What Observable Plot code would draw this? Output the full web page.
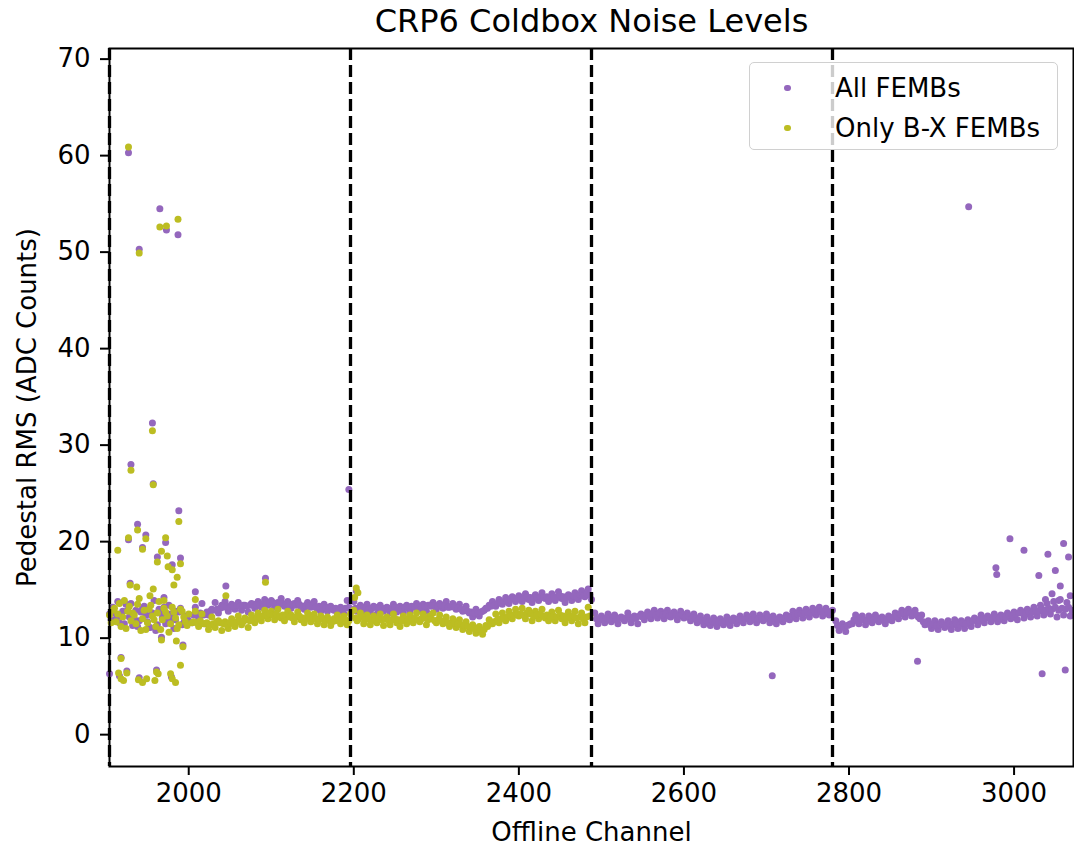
<!DOCTYPE html>
<html><head><meta charset="utf-8">
<script src="https://cdn.jsdelivr.net/npm/d3@7"></script>
<script src="https://cdn.jsdelivr.net/npm/@observablehq/plot@0.6"></script>
<style>
body{margin:0;background:#fff;}
#wrap{position:relative;width:1074px;height:846px;font-family:"DejaVu Sans",sans-serif;}
.legend{position:absolute;left:749px;top:62px;width:309px;height:88px;border:1.5px solid #d0d0d0;border-radius:5px;background:rgba(255,255,255,0.8);box-sizing:border-box;}
.legend .row{position:absolute;left:0;height:30px;}
.legend .dot{position:absolute;left:34px;width:6.6px;height:6.6px;border-radius:50%;}
.legend .lab{position:absolute;left:85px;top:0;font-size:26px;white-space:nowrap;color:#000;line-height:30px;}
</style>
</head><body>
<div id="wrap"></div>
<script>
// Section boundaries (offline channels), ticks
const dividers = [1904, 2196, 2488, 2780];
const xTicks = [2000, 2200, 2400, 2600, 2800, 3000];
const yTicks = [0, 10, 20, 30, 40, 50, 60, 70];

// "All FEMBs" base band, one value every 4 channels (two interleaved samplings)
const allA = [12.5,13.2,12.0,11.6,12.8,13.5,12.2,11.3,12.9,11.8,13.1,12.4,11.1,12.6,10.8,13.0,12.1,11.5,13.4,12.0,11.9,12.7,11.4,12.3,11.8]; // 1904-2000
const allA2 = [11.9,12.6,13.8,12.3,11.5,12.9,13.6,12.0,11.2,12.7,13.3,11.7,12.4,13.9,11.4,12.6,13.2,11.9,12.5,11.0,12.8,13.1,11.6,12.2]; // 1906-1998
const allB = [11.6,13.2,12.0,13.6,11.5,12.4,13.0,13.7,12.6,13.4,13.8,12.8,13.5,13.0,13.7,12.9,13.4,12.7,13.6,13.1,13.8,13.2,14.0,13.4,13.9,13.2,13.7,14.1,13.3,13.8,13.1,13.6,13.9,13.2,13.0,13.7,13.2,13.8,13.0,12.8,13.5,12.8,13.3,12.9,12.6,13.2,12.5,13.9,13.0]; // 2004-2196
const allB2 = [12.4,12.5,12.6,12.4,12.7,12.8,12.9,13.0,13.1,13.2,13.3,13.2,13.3,13.4,13.3,13.4,13.3,13.4,13.5,13.4,13.5,13.6,13.5,13.6,13.7,13.6,13.5,13.6,13.5,13.4,13.5,13.4,13.5,13.3,13.4,13.3,13.4,13.2,13.3,13.2,13.1,13.2,13.0,13.1,12.9,13.0,13.1,13.2]; // 2006-2194
const allC = [13.8,12.8,13.4,12.6,13.5,12.7,13.3,12.5,13.4,12.8,13.2,12.6,13.5,12.7,13.3,12.6,13.4,12.8,13.2,13.6,12.9,13.5,12.8,13.4,13.7,13.0,13.6,13.1,13.8,13.2,13.6,13.0,13.5,12.8,13.3,12.6,12.2,13.0,12.3,12.8,13.1,13.4,13.8,13.3,14.0,13.5,14.2,13.6,14.3,13.8,14.4,13.8,14.6,14.0,13.7,14.5,13.9,14.7,14.1,13.8,14.6,13.9,14.8,14.1,13.7,14.5,13.9,14.7,14.0,14.9,14.3,15.1,14.0]; // 2200-2488
const allC2 = [13.1,13.0,13.2,13.1,13.0,13.1,13.2,13.0,13.1,13.0,13.1,13.0,13.2,13.1,13.0,13.2,13.1,13.3,13.2,13.3,13.2,13.3,13.4,13.3,13.4,13.3,13.4,13.3,13.2,13.3,13.2,13.1,13.0,12.9,12.8,12.7,12.6,12.6,12.7,12.9,13.1,13.3,13.4,13.6,13.7,13.8,13.9,14.0,14.1,14.1,14.2,14.1,14.3,14.2,14.1,14.2,14.3,14.2,14.3,14.2,14.3,14.2,14.4,14.3,14.2,14.3,14.4,14.3,14.5,14.4,14.6,14.5]; // 2202-2486
const allD = [12.6,11.5,12.3,11.6,12.5,11.7,12.4,11.5,12.2,11.8,12.6,11.6,12.3,11.5,12.5,11.9,12.7,12.0,12.9,12.1,12.8,12.0,12.9,12.2,12.7,11.9,12.8,12.1,12.6,11.8,12.5,11.6,12.3,11.4,12.2,11.3,12.1,11.2,12.0,11.4,12.2,11.3,12.1,11.5,12.3,11.6,12.4,11.7,12.5,11.6,12.4,11.8,12.5,11.6,12.3,11.5,12.2,11.7,12.4,11.9,12.8,12.0,12.9,12.1,13.0,12.2,13.1,12.4,13.2,12.3,13.1,12.4,12.9]; // 2492-2780
const allD2 = [12.0,12.1,11.9,12.1,12.0,12.2,11.9,12.1,12.0,12.1,12.2,12.0,12.1,12.3,12.2,12.4,12.3,12.5,12.4,12.6,12.4,12.5,12.3,12.5,12.4,12.3,12.4,12.2,12.3,12.1,12.0,11.9,11.8,11.9,11.7,11.8,11.6,11.7,11.6,11.8,11.7,11.9,11.8,12.0,11.9,12.0,12.1,11.9,12.1,12.0,12.1,12.0,12.2,11.9,12.0,11.9,12.1,12.0,12.2,12.3,12.4,12.5,12.5,12.6,12.7,12.6,12.8,12.7,12.8,12.7,12.8,12.7]; // 2494-2778
const allE = [11.8,10.8,11.5,10.7,11.4,11.5,12.4,11.5,12.3,11.4,12.3,11.6,12.4,11.7,12.2,11.5,12.3,11.8,12.6,12.0,12.9,12.2,13.0,12.3,12.9,12.2,12.4,11.4,11.8,11.0,11.8,10.9,11.7,11.1,11.8,10.9,11.9,11.0,11.8,11.0,11.9,11.2,12.1,11.4,12.4,11.6,12.3,11.7,12.5,11.7,12.4,11.8,12.6,12.0,12.7,11.9,12.9,12.1,13.0,12.2,13.2,12.3,13.4,12.4,13.6,12.5,13.8,12.2,14.0,12.4,13.7,12.3]; // 2784-3068
const allE2 = [11.3,11.2,11.1,11.3,11.5,11.9,11.8,12.0,11.9,11.8,12.0,11.9,12.1,11.9,12.0,11.9,12.1,12.2,12.3,12.5,12.6,12.7,12.6,12.5,12.4,12.0,11.7,11.5,11.4,11.5,11.3,11.4,11.4,11.3,11.5,11.4,11.5,11.4,11.6,11.5,11.7,11.8,11.9,11.9,12.0,12.1,12.1,12.0,12.2,12.1,12.3,12.2,12.4,12.3,12.5,12.6,12.6,12.5,12.8,12.7,12.9,12.8,13.0,12.9,13.1,13.0,13.2,12.9,13.1,13.0,13.2,12.9]; // 2786-3070

// "Only B-X FEMBs" base band
const bxA = [12.4,12.9,11.7,13.6,12.2,11.0,13.3,12.6,11.5,14.1,12.0,10.9,13.0,12.3,11.2,13.8,11.9,12.7,10.6,13.2,12.1,11.4,12.8,11.7,12.5]; // 1904-2000
const bxA2 = [11.6,13.1,12.5,11.2,13.9,12.8,11.8,12.4,13.5,10.8,12.9,11.6,13.4,11.9,12.6,10.9,13.1,12.3,11.5,12.7,11.0,13.0,12.2,11.3]; // 1906-1998
const bxB = [11.6,12.8,11.2,12.5,11.5,10.9,12.2,11.1,11.8,10.8,11.7,11.0,12.0,11.2,12.3,11.4,12.1,11.1,12.4,11.6,12.6,11.8,12.9,12.0,12.8,11.9,13.0,12.1,11.8,12.8,12.4,11.7,12.7,11.9,11.6,12.6,11.7,12.5,11.5,12.3,11.4,12.2,11.3,12.0,12.4,11.5,12.3,11.4,12.5]; // 2004-2196
const bxB2 = [11.7,11.6,11.8,11.5,11.6,11.4,11.5,11.7,11.6,11.5,11.4,11.6,11.5,11.7,11.8,11.7,11.9,11.8,12.0,12.1,12.2,12.3,12.4,12.5,12.4,12.5,12.3,12.4,12.3,12.2,12.1,12.2,12.3,12.1,12.0,12.2,12.1,12.0,11.9,12.0,11.8,11.9,11.7,11.8,11.9,12.0,11.9,11.8]; // 2006-2194
const bxC = [12.9,11.8,12.6,11.5,12.4,11.4,12.3,11.6,12.5,11.3,12.2,11.4,12.5,11.6,11.2,12.3,11.5,12.4,11.6,12.6,11.7,12.5,11.4,12.3,12.6,11.6,12.4,11.5,12.2,11.2,12.0,11.1,11.9,10.9,11.7,10.7,11.4,10.5,11.2,10.4,11.3,11.9,11.5,12.5,11.6,12.6,11.8,12.8,12.0,13.0,12.3,13.1,12.0,12.9,11.8,12.8,12.0,13.0,12.1,11.8,12.7,11.8,12.9,12.0,11.6,12.7,11.8,12.8,11.5,12.6,11.6,13.2]; // 2200-2484
const bxC2 = [12.1,12.0,12.2,11.9,12.0,11.8,11.9,12.0,11.9,12.0,11.8,11.9,12.0,11.9,11.8,12.0,11.9,12.1,12.0,11.9,12.0,12.1,11.9,12.0,11.8,11.9,11.8,11.7,11.6,11.5,11.6,11.5,11.4,11.3,11.2,11.1,11.0,10.9,10.8,10.9,11.2,11.5,11.7,11.9,12.0,12.1,12.2,12.3,12.4,12.5,12.5,12.4,12.6,12.5,12.3,12.4,12.5,12.3,12.4,12.2,12.3,12.2,12.4,12.3,12.1,12.2,12.3,12.1,12.2,12.0,12.2,12.3]; // 2202-2486

// Scattered channels (off the band)
const allOutCh  = [1927,1940,1965,1973,1987,1956,1930,1957,1988,1938,1927,1948,1972,1944,1962,1990,1980,1929,1970,1953,1967,1993,1918,1904,1916,1925,1940,1961,1979,2008,2045,2093,2194,2203,2707,2883,2945,2978,2979,2995,3012,3030,3034,3041,3050,3056,3060,3062,3066,3068,3046,3054,3038];
const allOutVal = [60.3,50.3,54.5,52.3,51.8,32.3,28.0,26.0,23.2,21.8,20.2,20.7,19.9,19.4,18.4,18.3,17.6,15.7,14.2,11.1,10.1,9.3,8.0,6.3,6.1,6.6,5.9,6.7,6.0,14.8,15.4,16.2,25.4,14.9,6.1,7.6,54.7,17.3,16.6,20.3,19.1,16.5,6.3,18.7,17.0,15.4,19.8,6.7,18.4,14.4,14.6,13.9,14.0];
const bxOutCh  = [1927,1940,1965,1973,1987,1956,1930,1957,1988,1938,1927,1948,1972,1914,1944,1967,1962,1990,1974,1975,1980,1986,1982,1929,1937,1957,1953,1970,1967,1985,1993,1918,1990,1915,1918,1925,1921,1939,1944,1949,1959,1961,1963,1978,1980,1984,2008,2045,2093,2203,2205,2201];
const bxOutVal = [60.9,49.9,52.6,52.7,53.4,31.5,27.4,25.9,22.1,21.2,20.4,20.3,20.4,19.1,19.2,19.0,17.9,17.7,18.5,17.4,17.1,16.3,15.5,15.5,15.3,15.1,14.4,13.9,9.8,9.7,9.1,7.9,7.2,6.4,5.8,6.4,5.6,5.7,5.4,5.8,5.6,6.5,6.3,6.3,5.8,5.4,14.0,14.4,15.8,15.2,14.7,14.2];

// [first channel, values] ; samples spaced by STEP channels
const STEP = 4;
const allSections = [[1904, allA], [1906, allA2], [2004, allB], [2006, allB2], [2200, allC], [2202, allC2], [2492, allD], [2494, allD2], [2784, allE], [2786, allE2]];
const bxSections = [[1904, bxA], [1906, bxA2], [2004, bxB], [2006, bxB2], [2200, bxC], [2202, bxC2]];
const toPts = (sections, outCh, outVal) => {
  const pts = [];
  for (const [start, vals] of sections) vals.forEach((v, i) => pts.push({ch: start + i * STEP, v}));
  outCh.forEach((c, i) => pts.push({ch: c, v: outVal[i]}));
  return pts;
};
const allPts = toPts(allSections, allOutCh, allOutVal);
const bxPts = toPts(bxSections, bxOutCh, bxOutVal);

const PURPLE = "#9467bd", OLIVE = "#bcbd22";

const chart = Plot.plot({
  width: 1074, height: 846,
  marginLeft: 109, marginRight: 1, marginTop: 48, marginBottom: 80,
  style: {fontFamily: "DejaVu Sans, sans-serif", fontSize: "26px", color: "black", background: "white"},
  x: {domain: [1904, 3072]},
  y: {domain: [-3.3, 71.1]},
  marks: [
    Plot.dot(allPts, {x: "ch", y: "v", r: 3.5, fill: PURPLE}),
    Plot.dot(bxPts, {x: "ch", y: "v", r: 3.5, fill: OLIVE}),
    Plot.ruleX(dividers, {stroke: "black", strokeWidth: 3.3, strokeDasharray: "12,5"}),
    Plot.frame({stroke: "black", strokeWidth: 2}),
    Plot.axisX({ticks: xTicks, tickFormat: d => String(d), tickSize: 9, tickPadding: 8, fontSize: 26, strokeWidth: 2, label: null}),
    Plot.axisY({ticks: yTicks, tickFormat: d => String(d), tickSize: 9, tickPadding: 10, fontSize: 26, strokeWidth: 2, label: null}),
    Plot.text(["CRP6 Coldbox Noise Levels"], {text: d => d, frameAnchor: "top", lineAnchor: "middle", textAnchor: "middle", dy: -27, fontSize: 32}),
    Plot.text(["Offline Channel"], {text: d => d, frameAnchor: "bottom", lineAnchor: "middle", textAnchor: "middle", dy: 66, fontSize: 26}),
    Plot.text(["Pedestal RMS (ADC Counts)"], {text: d => d, frameAnchor: "left", lineAnchor: "middle", textAnchor: "middle", dx: -82, rotate: -90, fontSize: 26})
  ]
});
const wrap = document.getElementById("wrap");
wrap.appendChild(chart);

const legend = document.createElement("div");
legend.className = "legend";
[["All FEMBs", PURPLE, 10], ["Only B-X FEMBs", OLIVE, 50]].forEach(([t, c, top]) => {
  const row = document.createElement("div");
  row.className = "row"; row.style.top = top + "px";
  row.innerHTML = `<span class="dot" style="background:${c};top:11.7px"></span><span class="lab">${t}</span>`;
  legend.appendChild(row);
});
wrap.appendChild(legend);
</script>
</body></html>
